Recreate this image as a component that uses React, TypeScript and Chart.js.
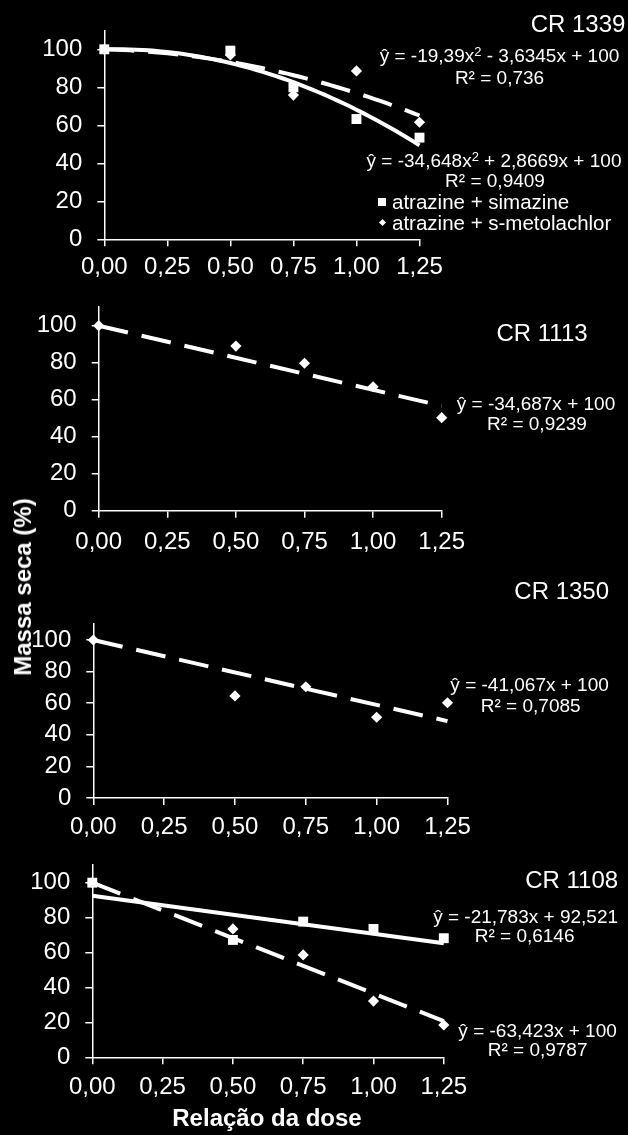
import React, { useEffect, useRef } from "react";
import { Chart, registerables } from "chart.js";

Chart.register(...registerables);

// ---------- data ----------
const xTicks = [0, 0.25, 0.5, 0.75, 1, 1.25];
const xTickLabels = ["0,00", "0,25", "0,50", "0,75", "1,00", "1,25"];
const yTicks = [0, 20, 40, 60, 80, 100];
const yTickLabels = ["0", "20", "40", "60", "80", "100"];
const doses = [0, 0.5, 0.75, 1, 1.25];

// CR 1339
const cr1339Simazine = [100, 99.3, 80, 63.3, 53.5];
const cr1339Metolachlor = [100, 97, 75.9, 88.6, 61.6];
const cr1339SimazineFit = [-34.648, 2.8669, 100]; // a x^2 + b x + c
const cr1339MetolachlorFit = [-19.39, -3.6345, 100];
// CR 1113
const cr1113Metolachlor = [100, 89, 79.7, 67, 50.3];
const cr1113MetolachlorFit = [0, -34.687, 100];
// CR 1350
const cr1350Metolachlor = [100, 64.6, 70.4, 51.1, 60.3];
const cr1350MetolachlorFit = [0, -41.067, 100];
// CR 1108
const cr1108Simazine = [100, 67.2, 77.7, 73.5, 68.2];
const cr1108SimazineFit = [0, -21.783, 92.521];
const cr1108Metolachlor = [100, 73.5, 58.6, 32.2, 18.5];
const cr1108MetolachlorFit = [0, -63.423, 100];

const FONT = "'Liberation Sans', Arial, sans-serif";
const W = 628;

function pts(vals: number[]) {
  return doses.map((d, i) => ({ x: d, y: vals[i] }));
}

// points along a fitted trendline, from the equation printed on the chart
function fitLine(coef: number[]) {
  const out: { x: number; y: number }[] = [];
  const steps = coef[0] === 0 ? 1 : 50;
  for (let i = 0; i <= steps; i++) {
    const x = (1.25 * i) / steps;
    out.push({ x, y: coef[0] * x * x + coef[1] * x + coef[2] });
  }
  return out;
}

function squares(vals: number[]) {
  return {
    data: pts(vals),
    pointStyle: "rect",
    pointRadius: 7,
    pointBackgroundColor: "#fff",
    pointBorderColor: "#fff",
    pointBorderWidth: 0,
    showLine: false,
    clip: false,
  };
}
function diamonds(vals: number[]) {
  return {
    data: pts(vals),
    pointStyle: "rectRot",
    pointRadius: 5.6,
    pointBackgroundColor: "#fff",
    pointBorderColor: "#fff",
    pointBorderWidth: 0,
    showLine: false,
    clip: false,
  };
}
function trend(coef: number[], dashed: boolean) {
  return {
    data: fitLine(coef),
    showLine: true,
    pointRadius: 0,
    borderColor: "#fff",
    borderWidth: 4,
    borderDash: dashed ? [30, 14] : [],
    borderCapStyle: "butt",
    tension: 0,
    clip: false,
  };
}

type PanelCfg = {
  top: number;
  height: number;
  left: number;
  right: number;
  yZero: number; // local pixel of y = 0
  yTop: number; // local pixel of y = 110
  labelPad: number;
  datasets: any[];
};

const panels: PanelCfg[] = [
  {
    top: 0,
    height: 290,
    left: 104.3,
    right: 419.5,
    yZero: 239.3,
    yTop: 30.3,
    labelPad: 7,
    datasets: [
      squares(cr1339Simazine),
      diamonds(cr1339Metolachlor),
      trend(cr1339SimazineFit, false),
      trend(cr1339MetolachlorFit, true),
    ],
  },
  {
    top: 290,
    height: 275,
    left: 98.7,
    right: 441.7,
    yZero: 220.7,
    yTop: 17.2,
    labelPad: 10,
    datasets: [diamonds(cr1113Metolachlor), trend(cr1113MetolachlorFit, true)],
  },
  {
    top: 565,
    height: 280,
    left: 93.3,
    right: 447.5,
    yZero: 233,
    yTop: 59.2,
    labelPad: 8,
    datasets: [diamonds(cr1350Metolachlor), trend(cr1350MetolachlorFit, true)],
  },
  {
    top: 845,
    height: 290,
    left: 92.3,
    right: 443.8,
    yZero: 212.3,
    yTop: 20.2,
    labelPad: 9,
    datasets: [
      squares(cr1108Simazine),
      diamonds(cr1108Metolachlor),
      trend(cr1108SimazineFit, false),
      trend(cr1108MetolachlorFit, true),
    ],
  },
];

function Panel({ cfg }: { cfg: PanelCfg }) {
  const ref = useRef<HTMLCanvasElement | null>(null);
  useEffect(() => {
    if (!ref.current) return;
    const axisCommon = {
      grid: {
        drawOnChartArea: false,
        drawTicks: true,
        tickLength: 7,
        color: "#fff",
        lineWidth: 1.5,
      },
      border: { display: true, color: "#fff", width: 1.5 },
    };
    const chart = new Chart(ref.current, {
      type: "scatter",
      data: { datasets: cfg.datasets },
      options: {
        animation: false,
        responsive: false,
        events: [],
        layout: {
          padding: { top: cfg.yTop, left: 0, right: W - cfg.right, bottom: 0 },
        },
        plugins: { legend: { display: false }, tooltip: { enabled: false } },
        scales: {
          x: {
            type: "linear",
            min: 0,
            max: 1.25,
            ...axisCommon,
            afterBuildTicks: (s: any) => {
              s.ticks = xTicks.map((v) => ({ value: v }));
            },
            afterFit: (s: any) => {
              s.height = cfg.height - cfg.yZero;
              s.paddingLeft = 0;
              s.paddingRight = 0;
            },
            ticks: {
              color: "#fff",
              font: { family: FONT, size: 24 },
              padding: cfg.labelPad,
              maxRotation: 0,
              autoSkip: false,
              callback: (v: any) => xTickLabels[xTicks.indexOf(Number(v))],
            },
          },
          y: {
            type: "linear",
            min: 0,
            max: 110,
            ...axisCommon,
            afterBuildTicks: (s: any) => {
              s.ticks = yTicks.map((v) => ({ value: v }));
            },
            afterFit: (s: any) => {
              s.width = cfg.left;
              s.paddingTop = 0;
              s.paddingBottom = 0;
            },
            ticks: {
              color: "#fff",
              font: { family: FONT, size: 24 },
              padding: 15,
              autoSkip: false,
              callback: (v: any) => yTickLabels[yTicks.indexOf(Number(v))],
            },
          },
        },
      } as any,
    });
    return () => chart.destroy();
  }, [cfg]);
  return (
    <canvas
      ref={ref}
      width={W}
      height={cfg.height}
      style={{ position: "absolute", left: 0, top: cfg.top, width: W, height: cfg.height }}
    />
  );
}

function T({
  x,
  y,
  size,
  bold,
  align = "center",
  children,
}: {
  x: number;
  y: number;
  size: number;
  bold?: boolean;
  align?: "center" | "left";
  children: React.ReactNode;
}) {
  return (
    <div
      style={{
        position: "absolute",
        left: x,
        top: y,
        transform: align === "center" ? "translate(-50%, -50%)" : "translate(0, -50%)",
        whiteSpace: "nowrap",
        lineHeight: 1,
        color: "#fff",
        fontFamily: FONT,
        fontSize: size,
        fontWeight: bold ? "bold" : "normal",
      }}
    >
      {children}
    </div>
  );
}

const Sup = ({ children }: { children: React.ReactNode }) => (
  <span style={{ fontSize: "0.68em", position: "relative", top: "-0.45em" }}>{children}</span>
);

export default function App() {
  return (
    <div
      style={{
        position: "absolute",
        left: 0,
        top: 0,
        width: W,
        height: 1135,
        background: "#000",
        overflow: "hidden",
      }}
    >
      {panels.map((p, i) => (
        <Panel key={i} cfg={p} />
      ))}

      {/* CR 1339 */}
      <T x={578} y={23.5} size={24}>CR 1339</T>
      <T x={499.5} y={55} size={19}>
        ŷ = -19,39x<Sup>2</Sup> - 3,6345x + 100
      </T>
      <T x={499.5} y={76.7} size={19}>R² = 0,736</T>
      <T x={494} y={160} size={19}>
        ŷ = -34,648x<Sup>2</Sup> + 2,8669x + 100
      </T>
      <T x={495} y={180} size={19}>R² = 0,9409</T>
      <div
        style={{
          position: "absolute",
          left: 378,
          top: 197.7,
          width: 8,
          height: 8,
          background: "#fff",
        }}
      />
      <T x={392} y={201.7} size={20.5} align="left">atrazine + simazine</T>
      <div
        style={{
          position: "absolute",
          left: 379.5,
          top: 220.2,
          width: 5,
          height: 5,
          background: "#fff",
          transform: "rotate(45deg)",
        }}
      />
      <T x={392} y={222.7} size={20.5} align="left">atrazine + s-metolachlor</T>

      {/* CR 1113 */}
      <T x={542} y={332.7} size={24}>CR 1113</T>
      <T x={536} y={403.3} size={19}>ŷ = -34,687x + 100</T>
      <T x={537} y={423.3} size={19}>R² = 0,9239</T>

      {/* CR 1350 */}
      <T x={561.7} y={590.7} size={24}>CR 1350</T>
      <T x={529.6} y={684.3} size={19}>ŷ = -41,067x + 100</T>
      <T x={530.7} y={705} size={19}>R² = 0,7085</T>

      {/* CR 1108 */}
      <T x={571.7} y={880} size={24}>CR 1108</T>
      <T x={525.6} y={915.7} size={19}>ŷ = -21,783x + 92,521</T>
      <T x={524.6} y={935} size={19}>R² = 0,6146</T>
      <T x={537.6} y={1030} size={19}>ŷ = -63,423x + 100</T>
      <T x={537.6} y={1049.3} size={19}>R² = 0,9787</T>

      {/* axis titles */}
      <T x={267} y={1118.3} size={24} bold>Relação da dose</T>
      <div
        style={{
          position: "absolute",
          left: 23,
          top: 586.5,
          transform: "translate(-50%, -50%) rotate(-90deg)",
          whiteSpace: "nowrap",
          lineHeight: 1,
          color: "#fff",
          fontFamily: FONT,
          fontSize: 24,
          fontWeight: "bold",
        }}
      >
        Massa seca (%)
      </div>
    </div>
  );
}
